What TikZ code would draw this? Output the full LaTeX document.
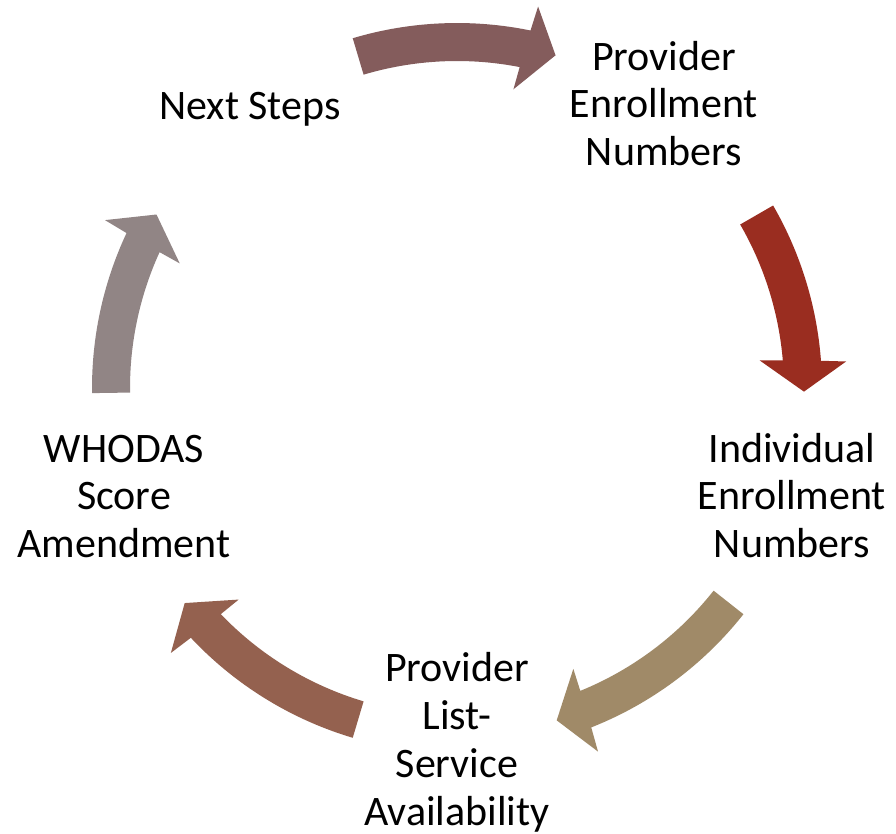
\documentclass[tikz,border=0pt]{standalone}
\usepackage{fontspec}
\setmainfont{Carlito}
\definecolor{cA}{HTML}{845C5C}
\definecolor{cB}{HTML}{9A2D20}
\definecolor{cC}{HTML}{A08A68}
\definecolor{cD}{HTML}{94614F}
\definecolor{cE}{HTML}{918585}
% curved block arrow, clockwise from angle #2 to #3 (degrees clockwise from top)
\newcommand\cycarrow[3]{%
  \fill[#1] ({#2-90}:365) arc[start angle={#2-90}, end angle={#3-94.88}, radius=365]
    -- ({#3-94.5}:390) -- ({#3-90}:347) -- ({#3-95.8}:304) -- ({#3-95.45}:327)
    arc[start angle={#3-95.45}, end angle={#2-90}, radius=327] -- cycle;}
\begin{document}
\begin{tikzpicture}[x=1pt,y=-1pt,
  lbl/.style={align=center, font=\fontsize{42}{47.7}\selectfont, inner sep=0pt, anchor=base}]
\useasboundingbox (0,0) rectangle (896,833);
\fill[white] (0,0) rectangle (896,833);
\begin{scope}[shift={(457,388)}]
  \cycarrow{cA}{-16.6}{16.5}
  \cycarrow{cB}{60}{90.6}
  \cycarrow{cC}{128.3}{163.3}
  \cycarrow{cD}{196.6}{231.7}
  \cycarrow{cE}{269.2}{300}
\end{scope}
\node[lbl] (next) at (250,119) {Next Steps};
\node[lbl] (pen) at (664,165.4) {Provider\\Enrollment\\Numbers};
\node[lbl] (ien) at (792,557.4) {Individual\\Enrollment\\Numbers};
\node[lbl] (pls) at (457,825) {Provider\\List-\\Service\\Availability};
\node[lbl] (who) at (124,557.4) {WHODAS\\Score\\Amendment};
\end{tikzpicture}
\end{document}
